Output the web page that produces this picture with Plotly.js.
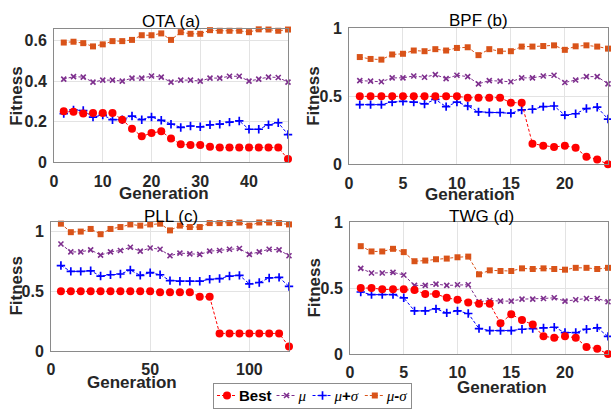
<!DOCTYPE html>
<html>
<head>
<meta charset="utf-8">
<script src="https://cdn.plot.ly/plotly-3.0.1.min.js"></script>
<style>html,body{margin:0;padding:0;background:#fff;}#chart{width:611px;height:410px;}</style>
</head>
<body>
<div id="chart"></div>
<script>
// ---- Data ----
const seriesNames = ['Best', 'μ', 'μ+σ', 'μ-σ'];
const panelTitles = ['OTA (a)', 'BPF (b)', 'PLL (c)', 'TWG (d)'];

const otaGen = [2,4,6,8,10,12,14,16,18,20,22,24,26,28,30,32,34,36,38,40,42,44,46,48];
const otaBest = [0.252,0.249,0.240,0.243,0.243,0.243,0.210,0.166,0.128,0.144,0.153,0.118,0.089,0.086,0.086,0.077,0.073,0.073,0.073,0.073,0.073,0.073,0.073,0.016];
const otaMu = [0.410,0.422,0.420,0.395,0.405,0.405,0.400,0.415,0.415,0.425,0.420,0.395,0.405,0.405,0.400,0.415,0.415,0.424,0.424,0.400,0.410,0.420,0.418,0.395];
const otaMuPlus = [0.240,0.258,0.255,0.223,0.233,0.210,0.210,0.228,0.210,0.223,0.207,0.188,0.172,0.179,0.175,0.185,0.188,0.198,0.204,0.163,0.163,0.185,0.195,0.137];
const otaMuMinus = [0.590,0.594,0.587,0.571,0.581,0.597,0.597,0.603,0.626,0.626,0.635,0.603,0.641,0.633,0.633,0.651,0.648,0.648,0.648,0.641,0.655,0.654,0.648,0.654];

const bpfGen = [1,2,3,4,5,6,7,8,9,10,11,12,13,14,15,16,17,18,19,20,21,22,23,24];
const bpfBest = [0.500,0.500,0.500,0.500,0.500,0.500,0.500,0.500,0.500,0.500,0.490,0.490,0.490,0.490,0.453,0.453,0.151,0.137,0.127,0.137,0.122,0.055,0.036,0.000];
const bpfMu = [0.616,0.612,0.607,0.636,0.636,0.650,0.640,0.660,0.630,0.655,0.645,0.592,0.616,0.612,0.607,0.636,0.636,0.650,0.655,0.602,0.620,0.645,0.645,0.592];
const bpfMuPlus = [0.439,0.439,0.439,0.458,0.463,0.458,0.444,0.477,0.424,0.458,0.429,0.386,0.381,0.381,0.376,0.400,0.405,0.424,0.429,0.362,0.372,0.410,0.420,0.333];
const bpfMuMinus = [0.789,0.775,0.770,0.808,0.813,0.837,0.832,0.847,0.837,0.856,0.861,0.803,0.847,0.832,0.832,0.866,0.866,0.870,0.875,0.842,0.868,0.875,0.866,0.851];

const pllGen = [5,10,15,20,25,30,35,40,45,50,55,60,65,70,75,80,85,90,95,100,105,110,115,120];
const pllBest = [0.500,0.500,0.500,0.500,0.500,0.500,0.500,0.500,0.500,0.500,0.492,0.492,0.492,0.492,0.454,0.454,0.148,0.148,0.148,0.148,0.148,0.148,0.148,0.038];
const pllMu = [0.896,0.830,0.830,0.847,0.803,0.830,0.842,0.869,0.836,0.863,0.852,0.798,0.820,0.814,0.809,0.836,0.842,0.852,0.858,0.809,0.830,0.852,0.847,0.798];
const pllMuPlus = [0.716,0.667,0.667,0.672,0.628,0.639,0.645,0.678,0.634,0.656,0.639,0.590,0.585,0.585,0.585,0.601,0.607,0.628,0.634,0.563,0.574,0.612,0.617,0.541];
const pllMuMinus = [1.066,0.995,1.000,1.022,0.978,1.022,1.038,1.060,1.050,1.060,1.066,1.010,1.050,1.038,1.038,1.071,1.071,1.071,1.076,1.050,1.076,1.076,1.071,1.060];

const twgGen = [1,2,3,4,5,6,7,8,9,10,11,12,13,14,15,16,17,18,19,20,21,22,23,24];
const twgBest = [0.500,0.500,0.490,0.490,0.490,0.485,0.455,0.455,0.426,0.411,0.391,0.381,0.381,0.233,0.302,0.257,0.223,0.134,0.124,0.134,0.124,0.054,0.040,0.000];
const twgMu = [0.649,0.614,0.614,0.619,0.599,0.520,0.520,0.530,0.520,0.525,0.525,0.396,0.406,0.401,0.401,0.416,0.416,0.421,0.426,0.401,0.411,0.421,0.421,0.396];
const twgMuPlus = [0.470,0.450,0.450,0.450,0.426,0.327,0.327,0.342,0.312,0.327,0.307,0.193,0.178,0.178,0.178,0.188,0.193,0.198,0.203,0.163,0.163,0.188,0.198,0.134];
const twgMuMinus = [0.817,0.777,0.777,0.797,0.772,0.703,0.708,0.718,0.723,0.733,0.738,0.604,0.634,0.629,0.629,0.649,0.644,0.649,0.644,0.639,0.653,0.653,0.644,0.653];

const xTicks = [[0,10,20,30,40],[0,5,10,15,20],[0,50,100],[0,5,10,15,20]];
const yTicks = [[0,0.2,0.4,0.6],[0,0.5,1],[0,0.5,1],[0,0.5,1]];
const xRanges = [[0,48],[0,24],[0,120],[0,24]];
const yRanges = [[0,0.655],[0,1],[0,1.08],[0,1]];

// ---- Styles ----
const FONT = 'Liberation Sans, Arial, sans-serif';
const TXT = '#262626';
const colors = ['#FF0000', '#7E2F8E', '#0000FF', '#D95319'];
const markers = [
  {symbol:'circle', size:8, color:colors[0]},
  {symbol:'x-thin-open', size:5, color:colors[1], line:{color:colors[1], width:1.6}},
  {symbol:'cross-thin-open', size:6, color:colors[2], line:{color:colors[2], width:1.7}},
  {symbol:'square', size:6, color:colors[3]}
];
const serif = 'font-family:Liberation Serif,Times New Roman,serif;font-weight:normal';
const legendLabels = [
  '<b>Best</b>',
  '<span style="'+serif+'"><i>μ</i></span>',
  '<span style="'+serif+'"><i>μ</i></span><b>+</b><span style="'+serif+'"><i>σ</i></span>',
  '<span style="'+serif+'"><i>μ</i></span><b>-</b><span style="'+serif+'"><i>σ</i></span>'
];

const panels = [
  {x: otaGen, ys: [otaBest, otaMu, otaMuPlus, otaMuMinus]},
  {x: bpfGen, ys: [bpfBest, bpfMu, bpfMuPlus, bpfMuMinus]},
  {x: pllGen, ys: [pllBest, pllMu, pllMuPlus, pllMuMinus]},
  {x: twgGen, ys: [twgBest, twgMu, twgMuPlus, twgMuMinus]}
];

const data = [];
panels.forEach((p, pi) => {
  const ax = pi === 0 ? '' : String(pi + 1);
  [3,2,1,0].forEach(si => {
    data.push({
      type: 'scatter', mode: 'lines+markers',
      x: p.x, y: p.ys[si],
      xaxis: 'x' + ax, yaxis: 'y' + ax,
      name: legendLabels[si],
      legendgroup: seriesNames[si],
      legendrank: si + 1,
      showlegend: pi === 0,
      line: {color: colors[si], width: 1, dash: '3px,2px'},
      marker: markers[si],
      cliponaxis: false
    });
  });
});

const W = 611, H = 410;
const boxes = [
  {l:54, r:288, t:30, b:166},
  {l:349, r:608, t:29, b:168},
  {l:51, r:289, t:227, b:359},
  {l:350, r:608, t:227, b:362}
];
const LEG = {x:213, y:383, h:25};

const layout = {
  width: W, height: H,
  margin: {l:0, r:0, t:0, b:0},
  paper_bgcolor: '#fff', plot_bgcolor: '#fff',
  font: {family: FONT, color: TXT},
  showlegend: true,
  legend: {
    orientation: 'h', x: LEG.x/W, y: 1 - LEG.y/H, xanchor: 'left', yanchor: 'top',
    bordercolor: '#8c8c8c', borderwidth: 1, bgcolor: '#fff',
    font: {family: FONT, size: 15, color: '#000'},
    itemwidth: 30, traceorder: 'normal', tracegroupgap: 0
  },
  annotations: []
};

const titlePos = [
  {tx:171, ty:22, gx:164, gy:198, fx:17, fy:98},
  {tx:478, ty:21, gx:470, gy:199, fx:314, fy:98},
  {tx:171, ty:221, gx:132, gy:391, fx:17, fy:292},
  {tx:481, ty:221, gx:502, gy:396, fx:315, fy:294}
];

boxes.forEach((b, i) => {
  const ax = i === 0 ? '' : String(i + 1);
  layout['xaxis' + ax] = {
    domain: [b.l / W, b.r / W], range: xRanges[i],
    anchor: 'y' + ax,
    tickvals: xTicks[i], ticktext: xTicks[i].map(String),
    showgrid: true, gridcolor: '#e3e3e3', gridwidth: 1,
    zeroline: false, showline: true, mirror: true, linecolor: '#8a8a8a', linewidth: 1,
    ticks: '', tickfont: {family: FONT, size: 16, color: TXT, weight: 'bold'},
    ticklabelstandoff: 4
  };
  layout['yaxis' + ax] = {
    domain: [1 - b.b / H, 1 - b.t / H], range: yRanges[i],
    anchor: 'x' + ax,
    tickvals: yTicks[i], ticktext: yTicks[i].map(String),
    showgrid: true, gridcolor: '#e3e3e3', gridwidth: 1,
    zeroline: false, showline: true, mirror: true, linecolor: '#8a8a8a', linewidth: 1,
    ticks: '', tickfont: {family: FONT, size: 16, color: TXT, weight: 'bold'},
    ticklabelstandoff: 3
  };
  const tp = titlePos[i];
  layout.annotations.push(
    {text: panelTitles[i], xref:'paper', yref:'paper', x: tp.tx / W, y: 1 - tp.ty / H,
     xanchor:'center', yanchor:'middle', showarrow:false, font:{family:FONT, size:17, color:'#000'}},
    {text: '<b>Generation</b>', xref:'paper', yref:'paper', x: tp.gx / W, y: 1 - tp.gy / H,
     xanchor:'center', yanchor:'middle', showarrow:false, font:{family:FONT, size:17, color:TXT}},
    {text: '<b>Fitness</b>', xref:'paper', yref:'paper', x: tp.fx / W, y: 1 - tp.fy / H,
     xanchor:'center', yanchor:'middle', showarrow:false, textangle:-90, font:{family:FONT, size:17, color:TXT}}
  );
});

const gd = document.getElementById('chart');
Plotly.newPlot(gd, data, layout, {displayModeBar: false, staticPlot: true}).then(() => {
  // compact the legend entries (shorter sample lines, tighter spacing) like the reference
  const leg = gd.querySelector('.legend');
  if (!leg) return;
  const items = leg.querySelectorAll('g.traces');
  const SYM = 22, GAP = 4, PAD = 3;
  let x = PAD;
  items.forEach(it => {
    it.setAttribute('transform', 'translate(' + x + ',' + (LEG.h / 2) + ')');
    it.querySelectorAll('path.js-line').forEach(p => p.setAttribute('d', 'M1,0h' + (SYM - 2)));
    it.querySelectorAll('.legendpoints path.scatterpts').forEach(p => p.setAttribute('transform', 'translate(' + (SYM / 2) + ',0)'));
    const t = it.querySelector('text.legendtext');
    let tw = 0;
    if (t) {
      t.setAttribute('x', SYM + 1);
      t.querySelectorAll('tspan.line').forEach(s => s.setAttribute('x', SYM + 1));
      tw = t.getBBox().width;
    }
    const r = it.querySelector('rect.legendtoggle');
    if (r) r.setAttribute('width', SYM + tw);
    x += SYM + 1 + tw + GAP;
  });
  const total = x - GAP + PAD;
  leg.setAttribute('transform', 'translate(' + LEG.x + ',' + LEG.y + ')');
  leg.querySelectorAll('rect.bg').forEach(r => { r.setAttribute('width', total); r.setAttribute('height', LEG.h); });
  document.querySelectorAll('clipPath[id^="legend"] rect').forEach(r => { r.setAttribute('width', total); r.setAttribute('height', LEG.h); });
  const sb = leg.querySelector('.scrollbox');
  if (sb) sb.setAttribute('transform', 'translate(0,0)');
});
</script>
</body>
</html>
